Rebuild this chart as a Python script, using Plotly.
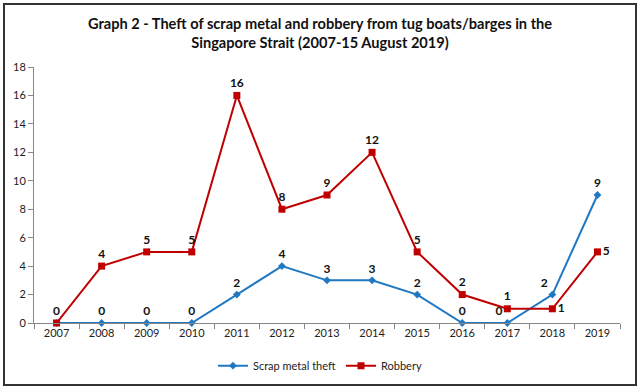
import plotly.graph_objects as go

years = ["2007", "2008", "2009", "2010", "2011", "2012", "2013", "2014", "2015", "2016", "2017", "2018", "2019"]
scrap_metal_theft = [0, 0, 0, 0, 2, 4, 3, 3, 2, 0, 0, 2, 9]
robbery = [0, 4, 5, 5, 16, 8, 9, 12, 5, 2, 1, 1, 5]
y_ticks = [0, 2, 4, 6, 8, 10, 12, 14, 16, 18]

scrap_text = [""] + [str(v) for v in scrap_metal_theft[1:]]
scrap_pos = ["top center"] * 13
scrap_pos[10] = "top left"
scrap_pos[11] = "top left"
rob_text = [str(v) for v in robbery]
rob_pos = ["top center"] * 13
rob_pos[11] = "middle right"
rob_pos[12] = "middle right"

FONT = "Lato, 'Open Sans', sans-serif"

fig = go.Figure()
fig.add_trace(go.Scatter(
    x=years, y=scrap_metal_theft, name="Scrap metal theft",
    mode="lines+markers+text", text=scrap_text, textposition=scrap_pos,
    textfont=dict(family=FONT, size=12, color="#111111", weight="bold"),
    line=dict(color="#1f78c1", width=2),
    marker=dict(symbol="diamond", size=6, color="#1f78c1"),
    cliponaxis=False,
))
fig.add_trace(go.Scatter(
    x=years, y=robbery, name="Robbery",
    mode="lines+markers+text", text=rob_text, textposition=rob_pos,
    textfont=dict(family=FONT, size=12, color="#111111", weight="bold"),
    line=dict(color="#c00000", width=2),
    marker=dict(symbol="square", size=7, color="#c00000"),
    cliponaxis=False,
))

fig.update_layout(
    width=640, height=389, autosize=False,
    margin=dict(l=34, r=20, t=67, b=66, autoexpand=False),
    paper_bgcolor="white", plot_bgcolor="white",
    font=dict(family=FONT, size=11, color="#222222"),
    title=dict(
        text="<b>Graph 2 - Theft of scrap metal and robbery from tug boats/barges in the<br>Singapore Strait (2007-15 August 2019)</b>",
        x=0.5, xref="container", y=0.925, yref="container", yanchor="top", xanchor="center",
        font=dict(family=FONT, size=14.6, color="#111111"),
    ),
    showlegend=True,
    legend=dict(orientation="h", x=0.488, xanchor="center", y=-0.11, yanchor="top",
                font=dict(family=FONT, size=11, color="#222222")),
    xaxis=dict(type="category", range=[-0.5, 12.5], showgrid=False, showline=True, linecolor="#888888",
               ticks="outside", tickson="boundaries", ticklen=5, tickcolor="#888888",
               tickfont=dict(size=11), tickangle=0, automargin=False),
    yaxis=dict(range=[0, 18], tickvals=y_ticks, showgrid=False, showline=True,
               linecolor="#888888", ticks="outside", ticklen=5, tickcolor="#888888",
               zeroline=False, tickfont=dict(size=11), automargin=False),
)

fig.add_shape(type="rect", xref="paper", yref="paper",
              x0=(4 - 34) / 586, x1=(636 - 34) / 586,
              y0=(323 - 385) / 256, y1=(323 - 4) / 256,
              line=dict(color="#333333", width=2), fillcolor="rgba(0,0,0,0)")

fig.write_html("out.html", config={"displayModeBar": False},
               post_script="document.body.style.margin='0';document.body.style.overflow='hidden';")
